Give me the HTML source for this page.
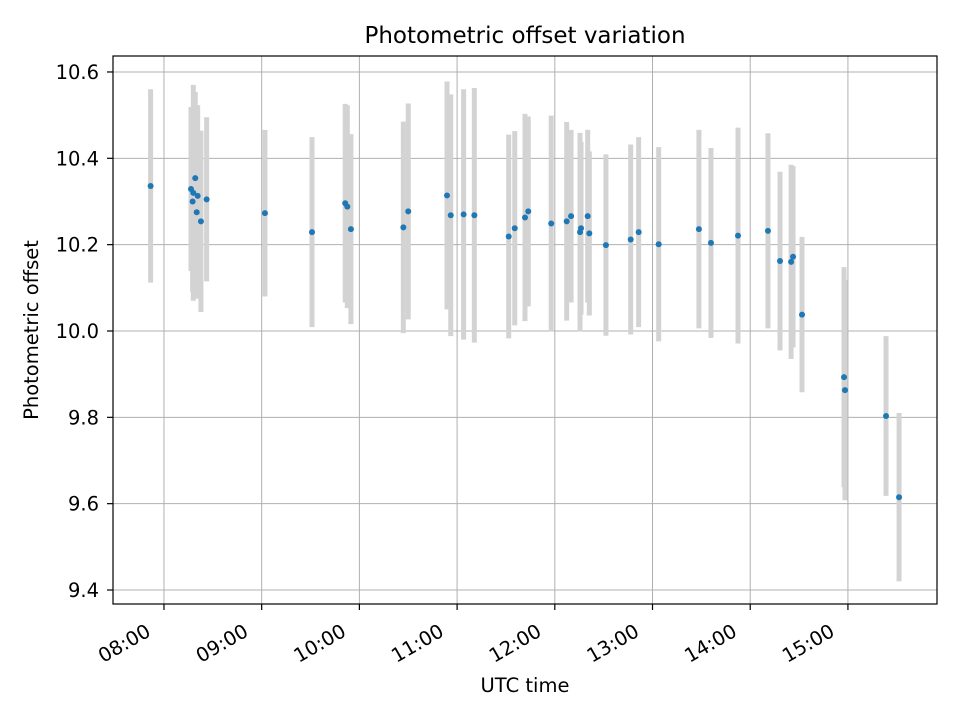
<!DOCTYPE html>
<html><head><meta charset="utf-8"><style>
html,body{margin:0;padding:0;background:#fff;}
svg{display:block;font-family:"DejaVu Sans","Liberation Sans",sans-serif;}
</style></head><body>
<svg id="chart" width="960" height="720" xmlns="http://www.w3.org/2000/svg">
<rect width="960" height="720" fill="#fff"/>
<g id="grid"></g><g id="bars"></g><g id="dots"></g><g id="axes"></g>
<text x="525" y="43" text-anchor="middle" font-size="23">Photometric offset variation</text>
<text x="525" y="692" text-anchor="middle" font-size="19.5">UTC time</text>
<text transform="translate(38,330) rotate(-90)" text-anchor="middle" font-size="19.5">Photometric offset</text>
</svg>
<script>
// minutes after 08:00 UTC
const times=[-8.2,16.6,18,19.2,20.7,17.6,20.1,22.7,26.2,62,90.9,111.3,112.6,114.8,147,150,173.8,176.1,184,190.6,211.7,215.4,221.7,223.7,237.8,247.3,250,255.5,256.1,260.2,261.2,271.4,286.6,291.5,303.8,328.5,335.9,352.5,370.9,378.3,385.1,386.3,391.8,417.6,418.2,443.4,451.4];
const offsets=[10.336,10.329,10.320,10.354,10.313,10.300,10.275,10.254,10.305,10.273,10.229,10.296,10.288,10.236,10.240,10.277,10.314,10.268,10.270,10.268,10.219,10.238,10.263,10.277,10.249,10.254,10.266,10.229,10.238,10.266,10.226,10.199,10.212,10.229,10.201,10.236,10.204,10.221,10.232,10.162,10.160,10.172,10.038,9.893,9.863,9.803,9.615];
const errors=[0.224,0.19,0.25,0.2,0.21,0.21,0.2,0.21,0.19,0.193,0.22,0.23,0.235,0.22,0.245,0.25,0.264,0.28,0.29,0.295,0.236,0.225,0.24,0.22,0.25,0.23,0.2,0.23,0.2,0.2,0.19,0.21,0.22,0.22,0.225,0.23,0.22,0.25,0.226,0.207,0.225,0.21,0.18,0.255,0.255,0.185,0.195];
const xTicks=[0,60,120,180,240,300,360,420];
const xTickLabels=["08:00","09:00","10:00","11:00","12:00","13:00","14:00","15:00"];
const yTicks=[9.4,9.6,9.8,10.0,10.2,10.4,10.6];
const yTickLabels=["9.4","9.6","9.8","10.0","10.2","10.4","10.6"];

const L=113,R=937,T=56,B=604;
const xMin=-31.3,xMax=474.7,yMin=9.3676,yMax=10.637;
const xs=v=>L+(v-xMin)/(xMax-xMin)*(R-L);
const ys=v=>B-(v-yMin)/(yMax-yMin)*(B-T);
const NS="http://www.w3.org/2000/svg";
function mk(tag,parent,attrs){const e=document.createElementNS(NS,tag);for(const k in attrs)e.setAttribute(k,attrs[k]);parent.appendChild(e);return e;}
const grid=document.getElementById('grid'),bars=document.getElementById('bars'),dots=document.getElementById('dots'),axes=document.getElementById('axes');
xTicks.forEach((t,i)=>{
  const x=xs(t);
  const g=mk('line',grid,{x1:x,x2:x,y1:T,y2:B,stroke:'#b0b0b0','stroke-width':1});
  
  
  mk('line',axes,{x1:x,x2:x,y1:B,y2:B+6,stroke:'#000','stroke-width':1.2});
  const tx=mk('text',axes,{x:0,y:0,'font-size':19.5,'text-anchor':'end',transform:`translate(${x-12},${B+31}) rotate(-30)`});
  
  
  tx.textContent=xTickLabels[i];
});
yTicks.forEach((t,i)=>{
  const y=ys(t);
  const g=mk('line',grid,{x1:L,x2:R,y1:y,y2:y,stroke:'#b0b0b0','stroke-width':1});
  
  
  mk('line',axes,{x1:L-6,x2:L,y1:y,y2:y,stroke:'#000','stroke-width':1.2});
  const tx=mk('text',axes,{x:L-14,y:y+7,'font-size':19.5,'text-anchor':'end'});
  
  
  tx.textContent=yTickLabels[i];
});
times.forEach((t,i)=>{
  const x=xs(t);
  const b=mk('line',bars,{x1:x,x2:x,y1:ys(offsets[i]-errors[i]),y2:ys(offsets[i]+errors[i]),stroke:'#d3d3d3','stroke-width':5});
  
  
  const c=mk('circle',dots,{cx:x,cy:ys(offsets[i]),r:3,fill:'#1f77b4'});
  
  
});
const fr=mk('rect',axes,{x:L,y:T,width:R-L,height:B-T,fill:'none',stroke:'#000','stroke-width':1.2});


</script>
</body></html>
